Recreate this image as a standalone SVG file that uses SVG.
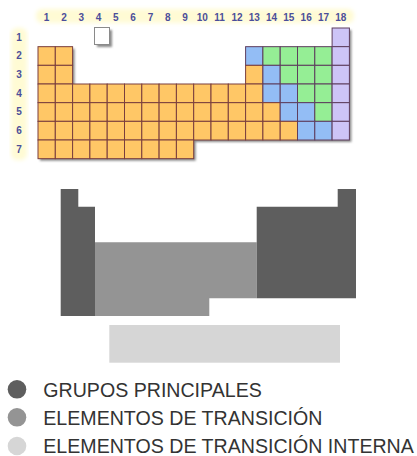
<svg xmlns="http://www.w3.org/2000/svg" width="417" height="456" viewBox="0 0 417 456">
<defs>
<filter id="blur" x="-10%" y="-30%" width="120%" height="160%"><feGaussianBlur stdDeviation="2"/></filter>
<filter id="sblur"><feGaussianBlur stdDeviation="0.8"/></filter>
</defs>
<style>
.o{fill:#FFC766;stroke:#7A3E3E;stroke-width:1}
.b{fill:#93BDF5;stroke:#5E3E5E;stroke-width:1}
.g{fill:#95EE95;stroke:#5E3E5E;stroke-width:1}
.p{fill:#CDC4F7;stroke:#5E3E5E;stroke-width:1}
.hn{font-family:"Liberation Sans",Arial,sans-serif;font-size:10px;font-weight:bold;fill:#4B4E9A;text-anchor:middle}
.lg{font-family:"Liberation Sans",Arial,sans-serif;font-size:19.6px;fill:#333}
.dk{fill:#5E5E5E}
.md{fill:#949494}
.lt{fill:#D6D6D6}
</style>
<g id="table">
<rect x="36" y="9" width="318" height="14" rx="6" fill="#FFFBD4" filter="url(#blur)"/>
<rect x="11" y="28" width="16" height="132" rx="6" fill="#FFFBD4" filter="url(#blur)"/>
<g id="group-numbers">
<text class="hn" x="46.65" y="21">1</text>
<text class="hn" x="63.95" y="21">2</text>
<text class="hn" x="81.25" y="21">3</text>
<text class="hn" x="98.55" y="21">4</text>
<text class="hn" x="115.85" y="21">5</text>
<text class="hn" x="133.15" y="21">6</text>
<text class="hn" x="150.45" y="21">7</text>
<text class="hn" x="167.75" y="21">8</text>
<text class="hn" x="185.05" y="21">9</text>
<text class="hn" x="202.35" y="21">10</text>
<text class="hn" x="219.65" y="21">11</text>
<text class="hn" x="236.95" y="21">12</text>
<text class="hn" x="254.25" y="21">13</text>
<text class="hn" x="271.55" y="21">14</text>
<text class="hn" x="288.85" y="21">15</text>
<text class="hn" x="306.15" y="21">16</text>
<text class="hn" x="323.45" y="21">17</text>
<text class="hn" x="340.75" y="21">18</text>
</g>
<g id="period-numbers">
<text class="hn" x="19" y="40.7">1</text>
<text class="hn" x="19" y="59.3">2</text>
<text class="hn" x="19" y="78">3</text>
<text class="hn" x="19" y="96.7">4</text>
<text class="hn" x="19" y="115.3">5</text>
<text class="hn" x="19" y="134">6</text>
<text class="hn" x="19" y="152.7">7</text>
</g>
<rect x="97" y="30" width="15" height="17" fill="#8a8a8a" filter="url(#sblur)"/>
<rect x="94.5" y="27.5" width="15" height="17" fill="#fff" stroke="#8a8a8a" stroke-width="1"/>
<path d="M40,48.67H74.6V86H247.6V48.67H334.1V30H351.4V142H195.7V160.67H40Z" fill="#8a8a8a" filter="url(#sblur)"/>
<g id="cells">
<rect class="p" x="332.1" y="28" width="17.3" height="18.67"/>
<rect class="o" x="38" y="46.67" width="17.3" height="18.67"/>
<rect class="o" x="55.3" y="46.67" width="17.3" height="18.67"/>
<rect class="b" x="245.6" y="46.67" width="17.3" height="18.67"/>
<rect class="g" x="262.9" y="46.67" width="17.3" height="18.67"/>
<rect class="g" x="280.2" y="46.67" width="17.3" height="18.67"/>
<rect class="g" x="297.5" y="46.67" width="17.3" height="18.67"/>
<rect class="g" x="314.8" y="46.67" width="17.3" height="18.67"/>
<rect class="p" x="332.1" y="46.67" width="17.3" height="18.67"/>
<rect class="o" x="38" y="65.33" width="17.3" height="18.67"/>
<rect class="o" x="55.3" y="65.33" width="17.3" height="18.67"/>
<rect class="o" x="245.6" y="65.33" width="17.3" height="18.67"/>
<rect class="b" x="262.9" y="65.33" width="17.3" height="18.67"/>
<rect class="g" x="280.2" y="65.33" width="17.3" height="18.67"/>
<rect class="g" x="297.5" y="65.33" width="17.3" height="18.67"/>
<rect class="g" x="314.8" y="65.33" width="17.3" height="18.67"/>
<rect class="p" x="332.1" y="65.33" width="17.3" height="18.67"/>
<rect class="o" x="38" y="84" width="17.3" height="18.67"/>
<rect class="o" x="55.3" y="84" width="17.3" height="18.67"/>
<rect class="o" x="72.6" y="84" width="17.3" height="18.67"/>
<rect class="o" x="89.9" y="84" width="17.3" height="18.67"/>
<rect class="o" x="107.2" y="84" width="17.3" height="18.67"/>
<rect class="o" x="124.5" y="84" width="17.3" height="18.67"/>
<rect class="o" x="141.8" y="84" width="17.3" height="18.67"/>
<rect class="o" x="159.1" y="84" width="17.3" height="18.67"/>
<rect class="o" x="176.4" y="84" width="17.3" height="18.67"/>
<rect class="o" x="193.7" y="84" width="17.3" height="18.67"/>
<rect class="o" x="211" y="84" width="17.3" height="18.67"/>
<rect class="o" x="228.3" y="84" width="17.3" height="18.67"/>
<rect class="o" x="245.6" y="84" width="17.3" height="18.67"/>
<rect class="b" x="262.9" y="84" width="17.3" height="18.67"/>
<rect class="b" x="280.2" y="84" width="17.3" height="18.67"/>
<rect class="g" x="297.5" y="84" width="17.3" height="18.67"/>
<rect class="g" x="314.8" y="84" width="17.3" height="18.67"/>
<rect class="p" x="332.1" y="84" width="17.3" height="18.67"/>
<rect class="o" x="38" y="102.67" width="17.3" height="18.67"/>
<rect class="o" x="55.3" y="102.67" width="17.3" height="18.67"/>
<rect class="o" x="72.6" y="102.67" width="17.3" height="18.67"/>
<rect class="o" x="89.9" y="102.67" width="17.3" height="18.67"/>
<rect class="o" x="107.2" y="102.67" width="17.3" height="18.67"/>
<rect class="o" x="124.5" y="102.67" width="17.3" height="18.67"/>
<rect class="o" x="141.8" y="102.67" width="17.3" height="18.67"/>
<rect class="o" x="159.1" y="102.67" width="17.3" height="18.67"/>
<rect class="o" x="176.4" y="102.67" width="17.3" height="18.67"/>
<rect class="o" x="193.7" y="102.67" width="17.3" height="18.67"/>
<rect class="o" x="211" y="102.67" width="17.3" height="18.67"/>
<rect class="o" x="228.3" y="102.67" width="17.3" height="18.67"/>
<rect class="o" x="245.6" y="102.67" width="17.3" height="18.67"/>
<rect class="o" x="262.9" y="102.67" width="17.3" height="18.67"/>
<rect class="b" x="280.2" y="102.67" width="17.3" height="18.67"/>
<rect class="b" x="297.5" y="102.67" width="17.3" height="18.67"/>
<rect class="g" x="314.8" y="102.67" width="17.3" height="18.67"/>
<rect class="p" x="332.1" y="102.67" width="17.3" height="18.67"/>
<rect class="o" x="38" y="121.33" width="17.3" height="18.67"/>
<rect class="o" x="55.3" y="121.33" width="17.3" height="18.67"/>
<rect class="o" x="72.6" y="121.33" width="17.3" height="18.67"/>
<rect class="o" x="89.9" y="121.33" width="17.3" height="18.67"/>
<rect class="o" x="107.2" y="121.33" width="17.3" height="18.67"/>
<rect class="o" x="124.5" y="121.33" width="17.3" height="18.67"/>
<rect class="o" x="141.8" y="121.33" width="17.3" height="18.67"/>
<rect class="o" x="159.1" y="121.33" width="17.3" height="18.67"/>
<rect class="o" x="176.4" y="121.33" width="17.3" height="18.67"/>
<rect class="o" x="193.7" y="121.33" width="17.3" height="18.67"/>
<rect class="o" x="211" y="121.33" width="17.3" height="18.67"/>
<rect class="o" x="228.3" y="121.33" width="17.3" height="18.67"/>
<rect class="o" x="245.6" y="121.33" width="17.3" height="18.67"/>
<rect class="o" x="262.9" y="121.33" width="17.3" height="18.67"/>
<rect class="o" x="280.2" y="121.33" width="17.3" height="18.67"/>
<rect class="b" x="297.5" y="121.33" width="17.3" height="18.67"/>
<rect class="b" x="314.8" y="121.33" width="17.3" height="18.67"/>
<rect class="p" x="332.1" y="121.33" width="17.3" height="18.67"/>
<rect class="o" x="38" y="140" width="17.3" height="18.67"/>
<rect class="o" x="55.3" y="140" width="17.3" height="18.67"/>
<rect class="o" x="72.6" y="140" width="17.3" height="18.67"/>
<rect class="o" x="89.9" y="140" width="17.3" height="18.67"/>
<rect class="o" x="107.2" y="140" width="17.3" height="18.67"/>
<rect class="o" x="124.5" y="140" width="17.3" height="18.67"/>
<rect class="o" x="141.8" y="140" width="17.3" height="18.67"/>
<rect class="o" x="159.1" y="140" width="17.3" height="18.67"/>
<rect class="o" x="176.4" y="140" width="17.3" height="18.67"/>
</g>
</g>
<g id="blocks">
<path id="main-left" class="dk" d="M60.7,189H78.3V206.7H95V316H60.7Z"/>
<path id="transition" class="md" d="M95,242.3H256.7V298.3H209.3V316H95Z"/>
<path id="main-right" class="dk" d="M256.7,206.7H337.7V189H356V298.3H256.7Z"/>
<rect id="inner-transition" class="lt" x="109.3" y="325" width="230.7" height="37.7"/>
</g>
<g id="legend">
<g id="legend-main"><circle class="dk" cx="17" cy="389.3" r="9.3"/><text class="lg" x="43.3" y="396.7">GRUPOS PRINCIPALES</text></g>
<g id="legend-transition"><circle class="md" cx="17" cy="417.3" r="9.3"/><text class="lg" x="43.3" y="425">ELEMENTOS DE TRANSICIÓN</text></g>
<g id="legend-inner"><circle class="lt" cx="17" cy="446" r="9.3"/><text class="lg" x="43.3" y="453.3">ELEMENTOS DE TRANSICIÓN INTERNA</text></g>
</g>
</svg>
